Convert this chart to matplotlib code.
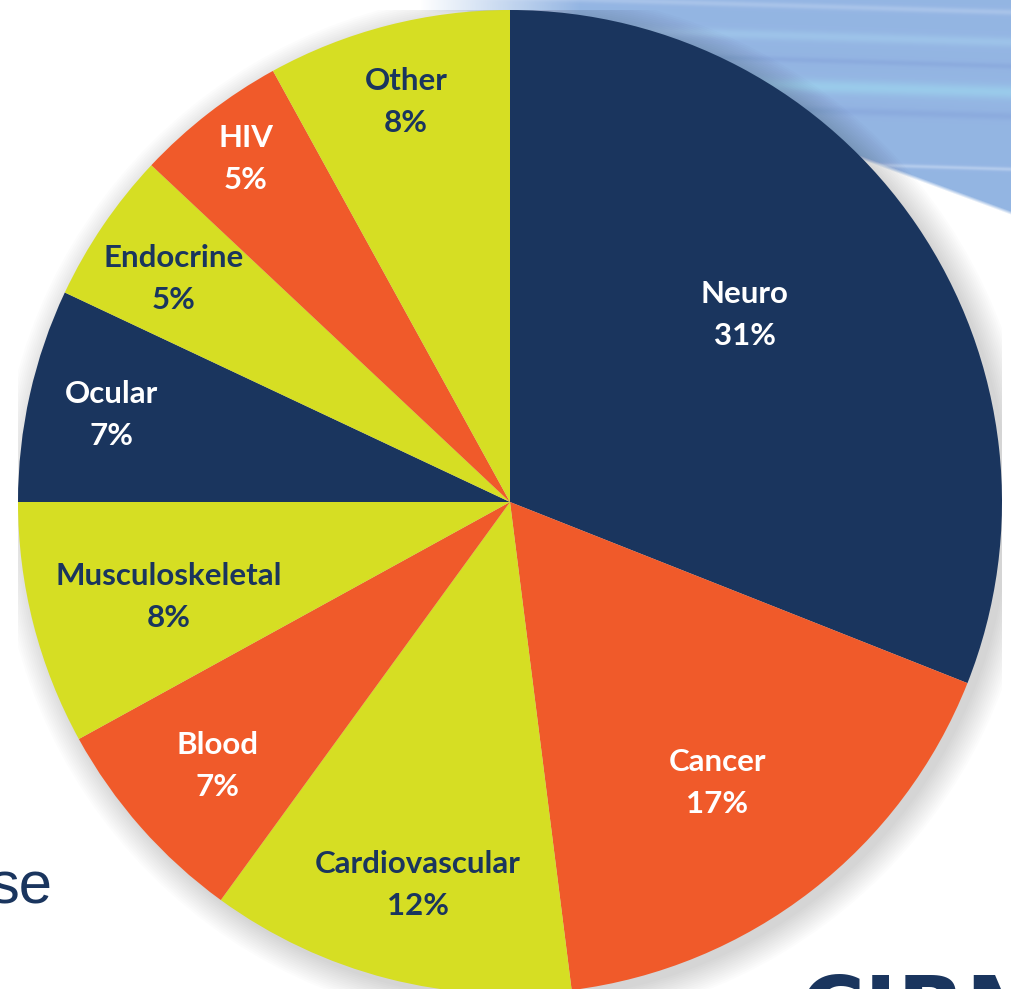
import numpy as np
import matplotlib
matplotlib.use("Agg")
import matplotlib.pyplot as plt
from matplotlib.patches import Circle

categories = ["Neuro", "Cancer", "Cardiovascular", "Blood", "Musculoskeletal",
              "Ocular", "Endocrine", "HIV", "Other"]
shares = [31, 17, 12, 7, 8, 7, 5, 5, 8]

NAVY = "#1A355E"
ORANGE = "#F05A2A"
YELLOW = "#D6DE23"
colors = [NAVY, ORANGE, YELLOW, ORANGE, YELLOW, NAVY, YELLOW, ORANGE, YELLOW]
text_colors = ["white", "white", NAVY, "white", NAVY, "white", NAVY, "white", NAVY]
# layout: label radius (fraction of pie radius) and angular nudge (deg)
label_radius = [0.61, 0.71, 0.80, 0.80, 0.72, 0.83, 0.82, 0.88, 0.84]
label_nudge = [4.3, -1.4, 0.9, 0.7, 1.2, 0.3, 0.7, -0.2, 0.2]

W, H = 1011, 989
fig = plt.figure(figsize=(W / 100, H / 100), dpi=100)
fig.patch.set_facecolor("white")

# background decoration (blue streaks at top right)
bg = fig.add_axes([0, 0, 1, 1])
bg.set_xlim(0, W)
bg.set_ylim(H, 0)
bg.axis("off")

gx, gy = np.meshgrid(np.arange(W) + 0.5, np.arange(240) + 0.5)
edge = 163 + (gx - 870) * 0.369
edge = np.maximum(edge, 14)
inside = np.clip((edge - gy) / 4.0, 0, 1)
fade = np.clip((gx - 420) / 160.0, 0, 1)
alpha = inside * fade
base = np.array([0.58, 0.71, 0.89])
img = np.zeros((240, W, 4))
img[..., :3] = base
# streaks
for y0, col, wdt in [(8, (0.71, 0.80, 0.93), 3), (38, (0.64, 0.80, 0.93), 5),
                     (62, (0.53, 0.65, 0.86), 3), (88, (0.62, 0.85, 0.94), 7),
                     (112, (0.53, 0.65, 0.86), 4), (165, (0.78, 0.85, 0.95), 2)]:
    yc = y0 + (gx - 870) * 0.03
    wgt = np.exp(-((gy - yc) / wdt) ** 2) * 0.6
    img[..., :3] = img[..., :3] * (1 - wgt[..., None]) + np.array(col) * wgt[..., None]
img[..., 3] = alpha
bg.imshow(img, extent=(0, W, 240, 0), interpolation="bilinear", zorder=0)
bg.set_xlim(0, W)
bg.set_ylim(H, 0)

# "se" text and logo fragment
bg.text(52, 903, "se", fontsize=43, color=NAVY, family="Liberation Sans",
        ha="right", va="baseline")
bg.text(800, 1040, "CIRM", fontsize=64, color=NAVY, family="DejaVu Sans",
        weight="bold", ha="left", va="baseline")

# pie axes: centre (510, 502) px, radius 492 px
R = 492
cx, cy = 510, 502
ax = fig.add_axes([(cx - R) / W, (H - cy - R) / H, 2 * R / W, 2 * R / H])
ax.set_xlim(-1, 1)
ax.set_ylim(-1, 1)
ax.axis("off")

# soft shadow
for i in range(14):
    ax.add_patch(Circle((0.014, -0.014), 1.0 + 0.004 * i, facecolor="black",
                        alpha=0.012, edgecolor="none", zorder=0))

wedges, _ = ax.pie(shares, colors=colors, startangle=90, counterclock=False,
                   radius=1.0, wedgeprops=dict(linewidth=0, edgecolor="none"))
for w in wedges:
    w.set_zorder(2)
ax.set_xlim(-1, 1)
ax.set_ylim(-1, 1)

for w, name, val, tc, lr, nd in zip(wedges, categories, shares, text_colors,
                                    label_radius, label_nudge):
    mid = np.deg2rad((w.theta1 + w.theta2) / 2 + nd)
    x, y = lr * np.cos(mid), lr * np.sin(mid)
    ax.text(x, y, f"{name}\n{val}%", ha="center", va="center", color=tc,
            fontsize=22.5, family="Lato", weight="bold", linespacing=1.6,
            zorder=5)

fig.savefig("out.png", dpi=100, facecolor="white")
